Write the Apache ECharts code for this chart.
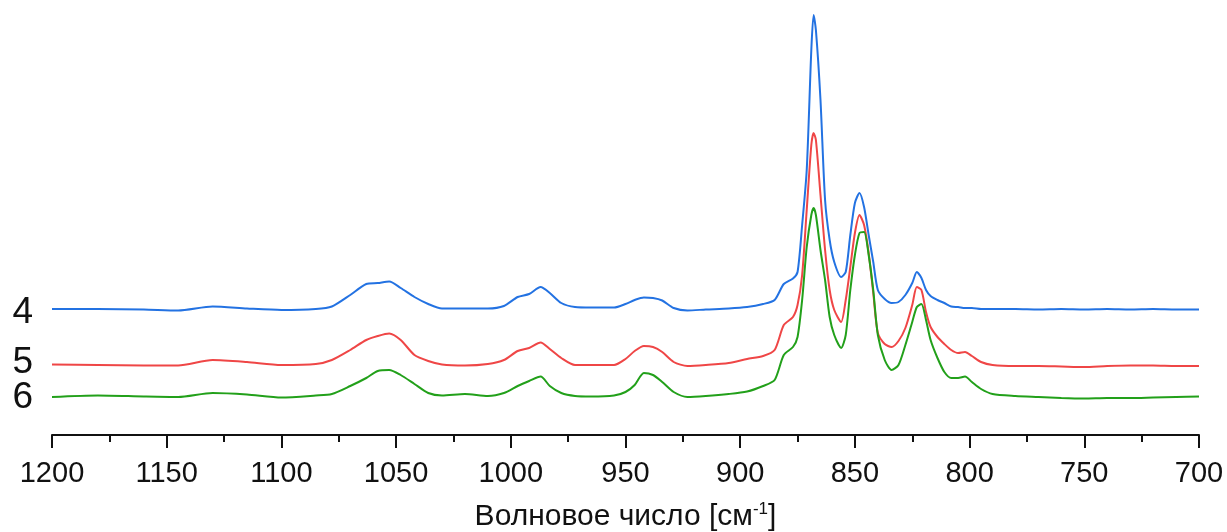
<!DOCTYPE html>
<html>
<head>
<meta charset="utf-8">
<script src="https://cdn.jsdelivr.net/npm/echarts@6/dist/echarts.min.js"></script>
<style>
  html, body { margin: 0; padding: 0; background: #fff; }
  #main { width: 1227px; height: 532px; }
</style>
</head>
<body>
<div id="main"></div>
<script>
// wavenumber grid, cm-1
const wavenumbers = [1200, 1180, 1160, 1145, 1130, 1115, 1100, 1085, 1078, 1070, 1063, 1058, 1053, 1048, 1042, 1036, 1030, 1020, 1010, 1003,
  997, 992, 987, 983, 978, 972, 965, 955, 950, 946, 942, 938, 934, 929, 923, 915, 905, 897, 890, 885,
  881, 877, 875, 873, 871, 869, 868, 867, 865, 863, 861, 859, 856, 854, 852, 850, 848, 846, 844, 842,
  840, 837, 834, 831, 828, 825, 823, 821, 819, 817, 814, 811, 808, 805, 802, 799, 795, 790, 780, 770,
  760, 750, 740, 730, 720, 710, 700];

// intensities (arb. units, offset spectra)
const spectrum4 = [126, 126, 125.5, 124.5, 128.5, 126.5, 125, 126, 128.5, 140, 151, 152, 153.5, 147, 138, 131, 126.5, 126.5, 126.5, 129,
  138, 141, 148, 142, 132, 128, 127.5, 127.5, 131, 135, 137.5, 137, 134.5, 127, 124.5, 125.5, 126.5, 128, 131, 135,
  151, 156.5, 163, 210, 265, 385, 420, 405, 335, 235, 195, 173, 158, 163, 200, 232, 242, 228, 200, 173,
  145, 136, 132, 133, 140, 152, 163, 157, 145, 139, 135, 132, 128.5, 128, 127, 127, 126, 126, 126, 125.5,
  126, 125.5, 126, 125.5, 126, 125.5, 125.5];
const spectrum5 = [70.5, 70, 69.5, 69.5, 75, 73, 70, 71, 75, 85, 95, 99, 101.5, 95, 80, 74, 70.5, 69.5, 71, 75,
  84, 87, 92.5, 86, 77, 70, 70, 70, 76, 84, 89, 88, 83, 73, 69, 70, 72, 76, 79, 85,
  110, 118, 130, 160, 225, 290, 302, 295, 240, 185, 145, 125, 113, 135, 168, 202, 220, 210, 182, 142,
  102, 91, 88, 94, 107, 130, 148, 145, 123, 108, 98, 91, 85, 82, 83, 79, 73, 70, 69, 69,
  68.5, 68, 69, 69.5, 69.5, 69, 69];
const spectrum6 = [38, 39.5, 38.5, 38, 42, 40.5, 37.5, 39.5, 41, 49, 57, 64, 65, 60, 51, 42, 39.5, 41, 39, 42,
  49, 54, 58.5, 49, 42, 39, 38.5, 39.5, 43, 50, 62, 60, 53, 43, 38, 39, 41, 43.5, 49, 55,
  80, 88, 98, 135, 188, 220, 227, 220, 185, 155, 118, 100, 87, 100, 145, 180, 202, 203, 180, 145,
  100, 75, 65, 70, 90, 113, 128, 131, 115, 95, 77, 63, 57, 57, 58.5, 53, 46, 41, 39, 38,
  37, 36.5, 37, 37, 37.5, 38, 38.5];

const traceNames = ['4', '5', '6'];
const traceLabelLevels = [122, 72.5, 37];
const colors = ['#2372e2', '#ef4646', '#22a01a'];

function pairs(ys) {
  return wavenumbers.map((w, i) => [w, ys[i]]);
}

let option = {
  animation: false,
  backgroundColor: '#fff',
  grid: { left: 52, right: 28, top: 15, bottom: 97, containLabel: false, outerBoundsMode: 'none' },
  xAxis: {
    type: 'value',
    inverse: true,
    min: 700,
    max: 1200,
    interval: 50,
    name: 'Волновое число [см{sup|-1}]',
    nameLocation: 'middle',
    nameGap: 66,
    nameTextStyle: {
      fontFamily: 'Liberation Sans',
      fontSize: 30,
      color: '#111',
      rich: {
        sup: { fontFamily: 'Liberation Sans', fontSize: 17, color: '#111', padding: [0, 0, 14, 0] }
      }
    },
    axisLine: { onZero: false, lineStyle: { color: '#111', width: 2 } },
    axisTick: { length: 13, lineStyle: { color: '#111', width: 2 } },
    minorTick: { show: true, splitNumber: 2, length: 7, lineStyle: { color: '#111', width: 2 } },
    axisLabel: {
      fontFamily: 'Liberation Sans', fontSize: 29, color: '#111', margin: 24,
      formatter: v => String(v)
    },
    splitLine: { show: false }
  },
  yAxis: {
    type: 'value',
    min: 0,
    max: 420,
    show: false
  },
  series: [spectrum4, spectrum5, spectrum6].map((ys, k) => ({
    name: traceNames[k],
    type: 'line',
    data: pairs(ys),
    showSymbol: false,
    smooth: 0.25,
    lineStyle: { color: colors[k], width: 2 },
    itemStyle: { color: colors[k] }
  }))
};

let myChart = echarts.init(document.getElementById('main'));
myChart.setOption(option);

// trace numbers to the left of the plot, placed through the y scale
myChart.setOption({
  graphic: traceNames.map((t, k) => ({
    type: 'text',
    x: 33,
    y: myChart.convertToPixel({ yAxisIndex: 0 }, traceLabelLevels[k]),
    style: {
      text: t,
      fontFamily: 'Liberation Sans',
      fontSize: 37,
      fill: '#111',
      align: 'right',
      verticalAlign: 'middle'
    }
  }))
});
</script>
</body>
</html>
